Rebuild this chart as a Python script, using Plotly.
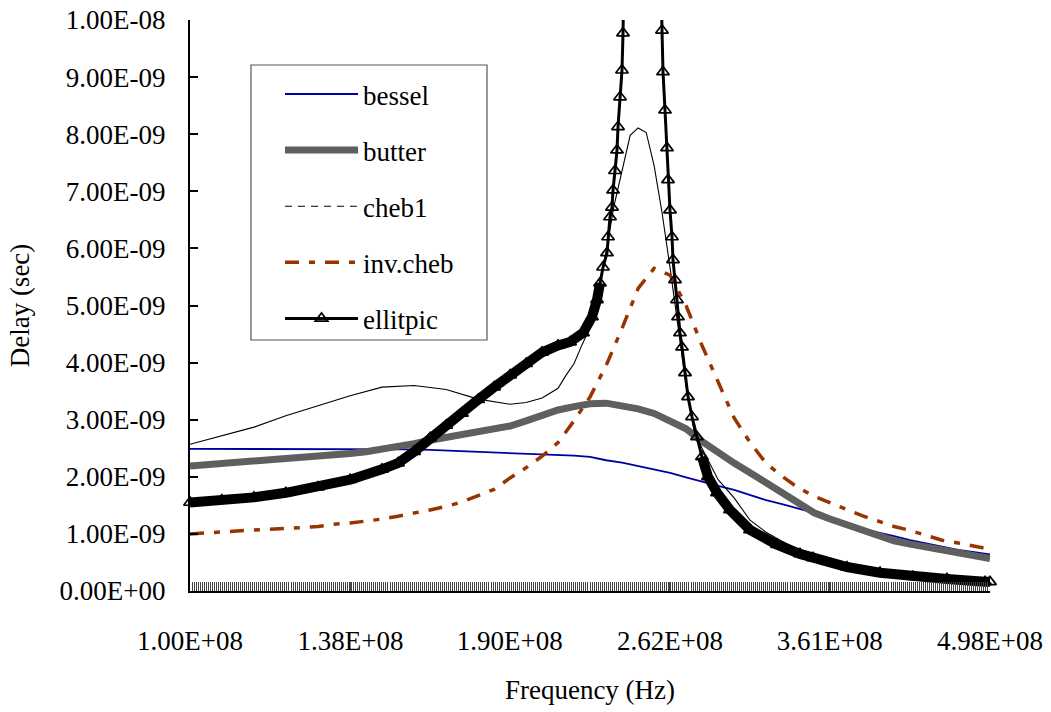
import numpy as np
import plotly.graph_objects as go

# ---------------- data (delays, in ns) ----------------
# common frequency grid (Hz) for bessel / butter / inv.cheb
freq_grid = [1.000e8, 1.033e8, 1.066e8, 1.101e8, 1.137e8, 1.174e8, 1.212e8, 1.252e8, 1.293e8, 1.335e8,
             1.379e8, 1.424e8, 1.470e8, 1.518e8, 1.568e8, 1.619e8, 1.672e8, 1.726e8, 1.783e8, 1.841e8,
             1.901e8, 1.963e8, 2.027e8, 2.093e8, 2.161e8, 2.232e8, 2.305e8, 2.380e8, 2.458e8, 2.538e8,
             2.621e8, 2.706e8, 2.794e8, 2.886e8, 2.980e8, 3.077e8, 3.177e8, 3.281e8, 3.388e8, 3.499e8,
             3.613e8, 3.731e8, 3.852e8, 3.978e8, 4.108e8, 4.242e8, 4.381e8, 4.523e8, 4.671e8, 4.824e8,
             4.980e8]

bessel_ns = [2.49, 2.49, 2.49, 2.49, 2.49, 2.49, 2.49, 2.49, 2.49, 2.49,
             2.49, 2.49, 2.49, 2.48, 2.48, 2.47, 2.46, 2.45, 2.44, 2.43,
             2.42, 2.41, 2.40, 2.39, 2.37, 2.35, 2.29, 2.25, 2.19, 2.14,
             2.07, 1.99, 1.91, 1.84, 1.77, 1.68, 1.59, 1.52, 1.45, 1.37,
             1.27, 1.16, 1.09, 1.03, 0.96, 0.89, 0.83, 0.77, 0.72, 0.68,
             0.64]

butter_ns = [2.19, 2.21, 2.23, 2.25, 2.27, 2.30, 2.32, 2.34, 2.37, 2.39,
             2.41, 2.44, 2.48, 2.52, 2.58, 2.64, 2.69, 2.74, 2.77, 2.83,
             2.89, 2.98, 3.09, 3.17, 3.23, 3.28, 3.29, 3.25, 3.19, 3.11,
             2.99, 2.84, 2.62, 2.41, 2.24, 2.07, 1.89, 1.73, 1.56, 1.37,
             1.26, 1.16, 1.06, 0.96, 0.88, 0.82, 0.77, 0.70, 0.65, 0.61,
             0.57]

invcheb_ns = [1.00, 1.02, 1.03, 1.05, 1.07, 1.08, 1.09, 1.11, 1.13, 1.17,
              1.19, 1.22, 1.26, 1.31, 1.36, 1.42, 1.48, 1.56, 1.67, 1.78,
              1.98, 2.16, 2.36, 2.60, 2.98, 3.40, 3.95, 4.60, 5.30, 5.65,
              5.53, 5.00, 4.30, 3.65, 3.03, 2.60, 2.24, 2.01, 1.81, 1.66,
              1.54, 1.43, 1.32, 1.22, 1.13, 1.06, 0.98, 0.89, 0.84, 0.78,
              0.73]

cheb1_freq = [1.000e8, 1.066e8, 1.137e8, 1.212e8, 1.293e8, 1.379e8, 1.470e8, 1.568e8, 1.672e8, 1.783e8,
              1.901e8, 1.963e8, 2.027e8, 2.093e8, 2.127e8, 2.161e8, 2.196e8, 2.232e8, 2.268e8, 2.305e8,
              2.342e8, 2.380e8, 2.419e8, 2.458e8, 2.498e8, 2.538e8, 2.579e8, 2.621e8, 2.663e8, 2.706e8,
              2.750e8, 2.794e8, 2.886e8, 2.980e8, 3.077e8, 3.177e8, 3.281e8, 3.388e8, 3.613e8, 3.852e8,
              4.108e8, 4.381e8, 4.671e8, 4.980e8]
cheb1_ns = [2.57, 2.72, 2.87, 3.07, 3.25, 3.42, 3.57, 3.60, 3.53, 3.36,
            3.27, 3.30, 3.38, 3.55, 3.78, 3.98, 4.31, 4.62, 5.25, 5.95,
            6.75, 7.37, 7.98, 8.11, 8.03, 7.45, 6.62, 5.65, 4.60, 3.60,
            2.80, 2.50, 1.95, 1.63, 1.24, 1.03, 0.87, 0.73, 0.52, 0.40,
            0.32, 0.27, 0.23, 0.20]

ellip_freq = [1.000e8, 1.066e8, 1.137e8, 1.212e8, 1.293e8, 1.379e8, 1.470e8, 1.518e8, 1.568e8, 1.619e8,
              1.672e8, 1.726e8, 1.783e8, 1.841e8, 1.901e8, 1.963e8, 2.027e8, 2.093e8, 2.1438e8, 2.2005e8,
              2.2406e8, 2.2632e8, 2.2768e8, 2.2906e8, 2.3090e8, 2.3137e8, 2.3230e8, 2.3323e8, 2.3370e8, 2.3464e8,
              2.3559e8, 2.3606e8, 2.3701e8, 2.3796e8, 2.3844e8, 2.4771e8, 2.5785e8, 2.5837e8, 2.5941e8, 2.6045e8,
              2.6097e8, 2.6202e8, 2.6308e8, 2.6361e8, 2.6466e8, 2.6573e8, 2.6626e8, 2.6733e8, 2.6841e8, 2.7003e8,
              2.7166e8, 2.7385e8, 2.7659e8, 2.7938e8, 2.8277e8, 2.8794e8, 2.9555e8, 3.0765e8, 3.2478e8, 3.4013e8,
              3.4911e8, 3.7377e8, 3.9936e8, 4.2670e8, 4.5683e8, 4.9303e8, 4.980e8]
ellip_ns = [1.55, 1.59, 1.64, 1.72, 1.82, 1.95, 2.13, 2.24, 2.44, 2.68,
            2.90, 3.11, 3.35, 3.57, 3.78, 3.98, 4.18, 4.30, 4.36, 4.52,
            4.80, 5.10, 5.39, 5.67, 5.92, 6.20, 6.55, 6.72, 7.02, 7.36,
            7.72, 8.13, 8.65, 9.12, 9.77, 30.0, 9.82, 9.09, 8.42, 7.76,
            7.20, 6.67, 6.20, 5.80, 5.45, 5.10, 4.80, 4.52, 4.27, 3.82,
            3.40, 3.05, 2.70, 2.35, 2.00, 1.72, 1.42, 1.07, 0.81, 0.65,
            0.58, 0.42, 0.32, 0.25, 0.21, 0.16, 0.16]

x_tick_vals = [1.00e8, 1.38e8, 1.90e8, 2.62e8, 3.61e8, 4.98e8]
x_tick_text = ["1.00E+08", "1.38E+08", "1.90E+08", "2.62E+08", "3.61E+08", "4.98E+08"]
y_tick_vals = [i * 1e-9 for i in range(11)]
y_tick_text = ["0.00E+00", "1.00E-09", "2.00E-09", "3.00E-09", "4.00E-09", "5.00E-09",
               "6.00E-09", "7.00E-09", "8.00E-09", "9.00E-09", "1.00E-08"]

# ---------------- styling ----------------
FONT = "Liberation Serif"
FS = 27


def sec(vals):
    return [None if v is None else v * 1e-9 for v in vals]


# category tick marks of the original (one per sample frequency)
cat_ticks = list(np.geomspace(1e8, 4.98e8, 397))

# dense part of the elliptic curve: overlapping markers form a solid band
ipk = ellip_ns.index(max(ellip_ns))
band_ns = []
for i, v in enumerate(ellip_ns):
    if (i < ipk and v <= 5.4) or (i > ipk and v <= 2.4):
        band_ns.append(v)
    else:
        band_ns.append(None)

fig = go.Figure()
fig.add_trace(go.Scatter(x=freq_grid, y=sec(bessel_ns), name="bessel", mode="lines",
                         line=dict(color="#0000a0", width=1.8), legendgroup="g1"))
fig.add_trace(go.Scatter(x=freq_grid, y=sec(butter_ns), name="butter", mode="lines",
                         line=dict(color="#5f5f5f", width=7), legendgroup="g2"))
fig.add_trace(go.Scatter(x=cheb1_freq, y=sec(cheb1_ns), name="cheb1", mode="lines",
                         line=dict(color="black", width=1.1), legendgroup="g3", showlegend=False))
fig.add_trace(go.Scatter(x=[None], y=[None], name="cheb1", mode="lines",
                         line=dict(color="black", width=1.1, dash="7px,6px"), legendgroup="g3"))
fig.add_trace(go.Scatter(x=freq_grid, y=sec(invcheb_ns), name="inv.cheb", mode="lines",
                         line=dict(color="#993300", width=3.5, dash="14px,10px,6px,10px"),
                         legendgroup="g4"))
fig.add_trace(go.Scatter(x=ellip_freq, y=sec(band_ns), mode="lines", connectgaps=False,
                         line=dict(color="black", width=10), showlegend=False,
                         legendgroup="g5", hoverinfo="skip"))
fig.add_trace(go.Scatter(x=ellip_freq, y=sec(ellip_ns), name="ellitpic", mode="lines+markers",
                         line=dict(color="black", width=3),
                         marker=dict(symbol="triangle-up-open", size=11, color="black",
                                     line=dict(width=1.7, color="black")),
                         cliponaxis=False, legendgroup="g5"))

fig.update_layout(
    width=1051, height=712,
    margin=dict(l=190, r=61, t=20, b=121, autoexpand=False),
    paper_bgcolor="white", plot_bgcolor="white",
    font=dict(family=FONT, size=FS, color="black"),
    showlegend=True,
    legend=dict(x=0.1125, y=0.9125, xanchor="left", yanchor="top",
                bgcolor="rgba(0,0,0,0)", borderwidth=0, itemwidth=73,
                tracegroupgap=18, traceorder="grouped",
                font=dict(family=FONT, size=FS, color="black")),
    shapes=[dict(type="rect", xref="paper", yref="paper",
                 x0=0.07625, x1=0.37125, y0=0.4396, y1=0.9212,
                 line=dict(color="#555555", width=1.2), fillcolor="white", layer="below")],
)

fig.update_xaxes(
    type="log", range=[8, np.log10(4.98e8)], automargin=False,
    tickmode="array", tickvals=x_tick_vals, ticktext=x_tick_text,
    ticks="inside", ticklen=9, tickcolor="#444444", tickwidth=1,
    minor=dict(tickmode="array", tickvals=cat_ticks, ticks="inside", ticklen=9,
               tickcolor="#444444", tickwidth=1, showgrid=False),
    showline=True, linecolor="black", linewidth=2,
    showgrid=False, zeroline=False, ticklabelstandoff=25,
    title=dict(text="Frequency (Hz)", standoff=25, font=dict(family=FONT, size=FS)),
)
fig.update_yaxes(
    range=[0, 1e-8], automargin=False,
    tickmode="array", tickvals=y_tick_vals, ticktext=y_tick_text,
    ticks="inside", ticklen=8, tickcolor="black", tickwidth=1.5,
    showline=True, linecolor="black", linewidth=2,
    showgrid=False, zeroline=False, ticklabelstandoff=17,
    title=dict(text="Delay (sec)", standoff=22, font=dict(family=FONT, size=FS)),
)

fig.write_html("out.html", config={"displayModeBar": False},
               post_script="document.body.style.margin='0px';")
